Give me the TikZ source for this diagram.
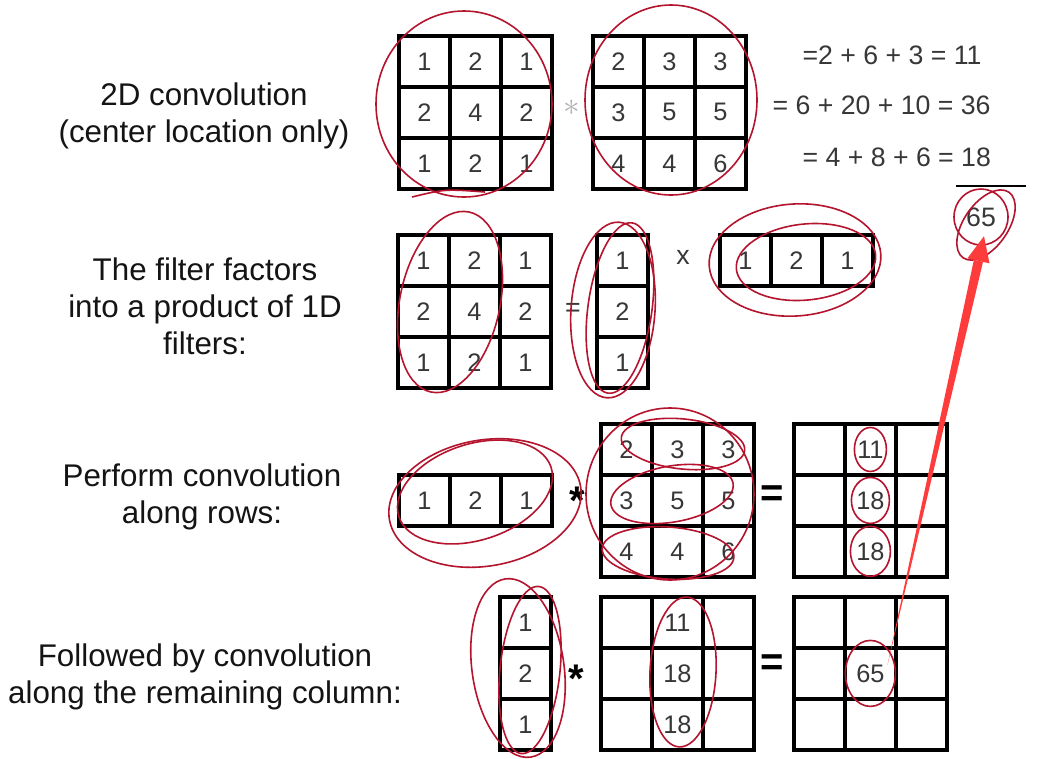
\documentclass[tikz,border=0pt]{standalone}
\usepackage{fontspec}
\setmainfont{Liberation Sans}
\usetikzlibrary{matrix, calc}
\definecolor{inkred}{RGB}{180,20,45}
\definecolor{arrowred}{RGB}{255,60,60}
\definecolor{numgray}{RGB}{55,55,55}

\begin{document}
\begin{tikzpicture}[
    x=0.75pt, y=-0.75pt,
    cell/.style={draw, line width=3pt, minimum width=38.2pt, minimum height=38.2pt,
                 inner sep=0pt, outer sep=0pt, anchor=center, text=numgray,
                 font=\fontsize{19}{22}\selectfont},
    cellgrid/.style={matrix of nodes, nodes in empty cells, nodes={cell},
                 inner sep=0pt, outer sep=0pt, column sep=-3pt, row sep=-3pt,
                 anchor=north west},
    caption/.style={align=center, text=black!92, font=\fontsize{23.5}{27.8}\selectfont},
    sum/.style={anchor=west, inner sep=1pt, text=numgray, font=\fontsize{20}{24}\selectfont},
    op/.style={text=numgray, font=\fontsize{20}{24}\selectfont},
    boldop/.style={font=\fontsize{30}{30}\selectfont\bfseries},
    ink/.style={draw=inkred, line width=1.2pt}
  ]
  \useasboundingbox (0,0) rectangle (1039,758);
  \fill[white] (0,0) rectangle (1039,758);

  \node[caption] (lab1) at (204,116) {2D convolution\\(center location only)};
  \node[caption] (lab2) at (205,306) {The filter factors\\into a product of 1D\\filters:};
  \node[caption] (lab3) at (202,497) {Perform convolution\\along rows:};
  \node[caption] (lab4) at (205,677) {Followed by convolution\\along the remaining column:};

  % full 2D convolution
  \matrix (ka) [cellgrid] at (397,34) {1 & 2 & 1\\ 2 & 4 & 2\\ 1 & 2 & 1\\};
  \node[op, text=gray!60, font=\fontsize{28}{28}\selectfont] (ast1) at (572,108) {$\ast$};
  \matrix (img) [cellgrid] at (591,34) {2 & 3 & 3\\ 3 & 5 & 5\\ 4 & 4 & 6\\};
  \node[sum] (s1) at (801,55) {=2 + 6 + 3 = 11};
  \node[sum] (s2) at (771,105) {= 6 + 20 + 10 = 36};
  \node[sum] (s3) at (801,157) {= 4 + 8 + 6 = 18};
  \draw[line width=2pt] (956,186) -- (1026,186);
  \node[op] (tot) at (981,217) {65};

  % factored filter
  \matrix (kb) [cellgrid] at (396,233) {1 & 2 & 1\\ 2 & 4 & 2\\ 1 & 2 & 1\\};
  \node[op] (eqf) at (573,310) {=};
  \matrix (colv) [cellgrid] at (595,233) {1\\ 2\\ 1\\};
  \node[op] (times) at (683,257) {x};
  \matrix (rowv) [cellgrid] at (718,233) {1 & 2 & 1\\};

  % along rows
  \matrix (rowk) [cellgrid] at (397,473) {1 & 2 & 1\\};
  \node[boldop] (ast2) at (577,501) {*};
  \matrix (img2) [cellgrid] at (599,422) {2 & 3 & 3\\ 3 & 5 & 5\\ 4 & 4 & 6\\};
  \node[boldop] (eqa) at (772,496) {=};
  \matrix (mid) [cellgrid] at (792,422) { & 11 & \\ & 18 & \\ & 18 & \\};

  % along the column
  \matrix (colk) [cellgrid] at (498,595) {1\\ 2\\ 1\\};
  \node[boldop] (ast3) at (576,679) {*};
  \matrix (mid2) [cellgrid] at (599,595) { & 11 & \\ & 18 & \\ & 18 & \\};
  \node[boldop] (eqb) at (772,665) {=};
  \matrix (fin) [cellgrid] at (792,595) { & & \\ & 65 & \\ & & \\};

  % pen marks
  \draw[ink] (464,104) ellipse [x radius=88, y radius=93];
  \draw[ink] (671,100) ellipse [x radius=86, y radius=95];
  \draw[ink] (412,197) .. controls (445,189) .. (485,192);
  \draw[ink, rotate around={-12:(450,302)}] (450,302) ellipse [x radius=50, y radius=92];
  \draw[ink, rotate around={-4:(613,310)}] (613,310) ellipse [x radius=42, y radius=88];
  \draw[ink, rotate around={-8:(620,308)}] (620,308) ellipse [x radius=32, y radius=86];
  \draw[ink, rotate around={4:(795,260)}] (795,260) ellipse [x radius=86, y radius=56];
  \draw[ink, rotate around={6:(806,262)}] (806,262) ellipse [x radius=70, y radius=38];
  \draw[ink, rotate around={10:(485,503)}] (485,503) ellipse [x radius=97, y radius=63];
  \draw[ink, rotate around={18:(475,492)}] (475,492) ellipse [x radius=80, y radius=48];
  \draw[ink] (670,494) ellipse [x radius=84, y radius=86];
  \draw[ink, rotate around={-6:(683,444)}] (683,444) ellipse [x radius=62, y radius=25];
  \draw[ink, rotate around={10:(672,494)}] (672,494) ellipse [x radius=62, y radius=28];
  \draw[ink, rotate around={-4:(668,553)}] (668,553) ellipse [x radius=66, y radius=26];
  \draw[ink] (mid-1-2) ellipse [x radius=16, y radius=22];
  \draw[ink] (mid-2-2) ellipse [x radius=19, y radius=23];
  \draw[ink] (mid-3-2) ellipse [x radius=20, y radius=25];
  \draw[ink, rotate around={8:(518,668)}] (518,668) ellipse [x radius=46, y radius=90];
  \draw[ink, rotate around={-6:(530,670)}] (530,670) ellipse [x radius=30, y radius=84];
  \draw[ink, rotate around={-3:(683,672)}] (683,672) ellipse [x radius=33, y radius=75];
  \draw[ink] (fin-2-2) ellipse [x radius=25, y radius=33];
  \draw[ink] (tot) ellipse [x radius=27, y radius=28];
  \draw[ink, rotate around={-35:(986,225)}] (986,225) ellipse [x radius=22, y radius=40];

  % red arrow
  \coordinate (from) at ($(fin-2-2.center)+(17,-8)$);
  \coordinate (tip) at ($(tot.south)+(3,5)$);
  \coordinate (base) at ($(tip)!19pt!(from)$);
  \fill[arrowred] (from) -- ($(base)!3.5pt!90:(from)$) -- ($(base)!3.5pt!-90:(from)$) -- cycle;
  \fill[arrowred] (tip) -- ($(base)!8.5pt!90:(from)$) -- ($(base)!8.5pt!-90:(from)$) -- cycle;
\end{tikzpicture}
\end{document}
